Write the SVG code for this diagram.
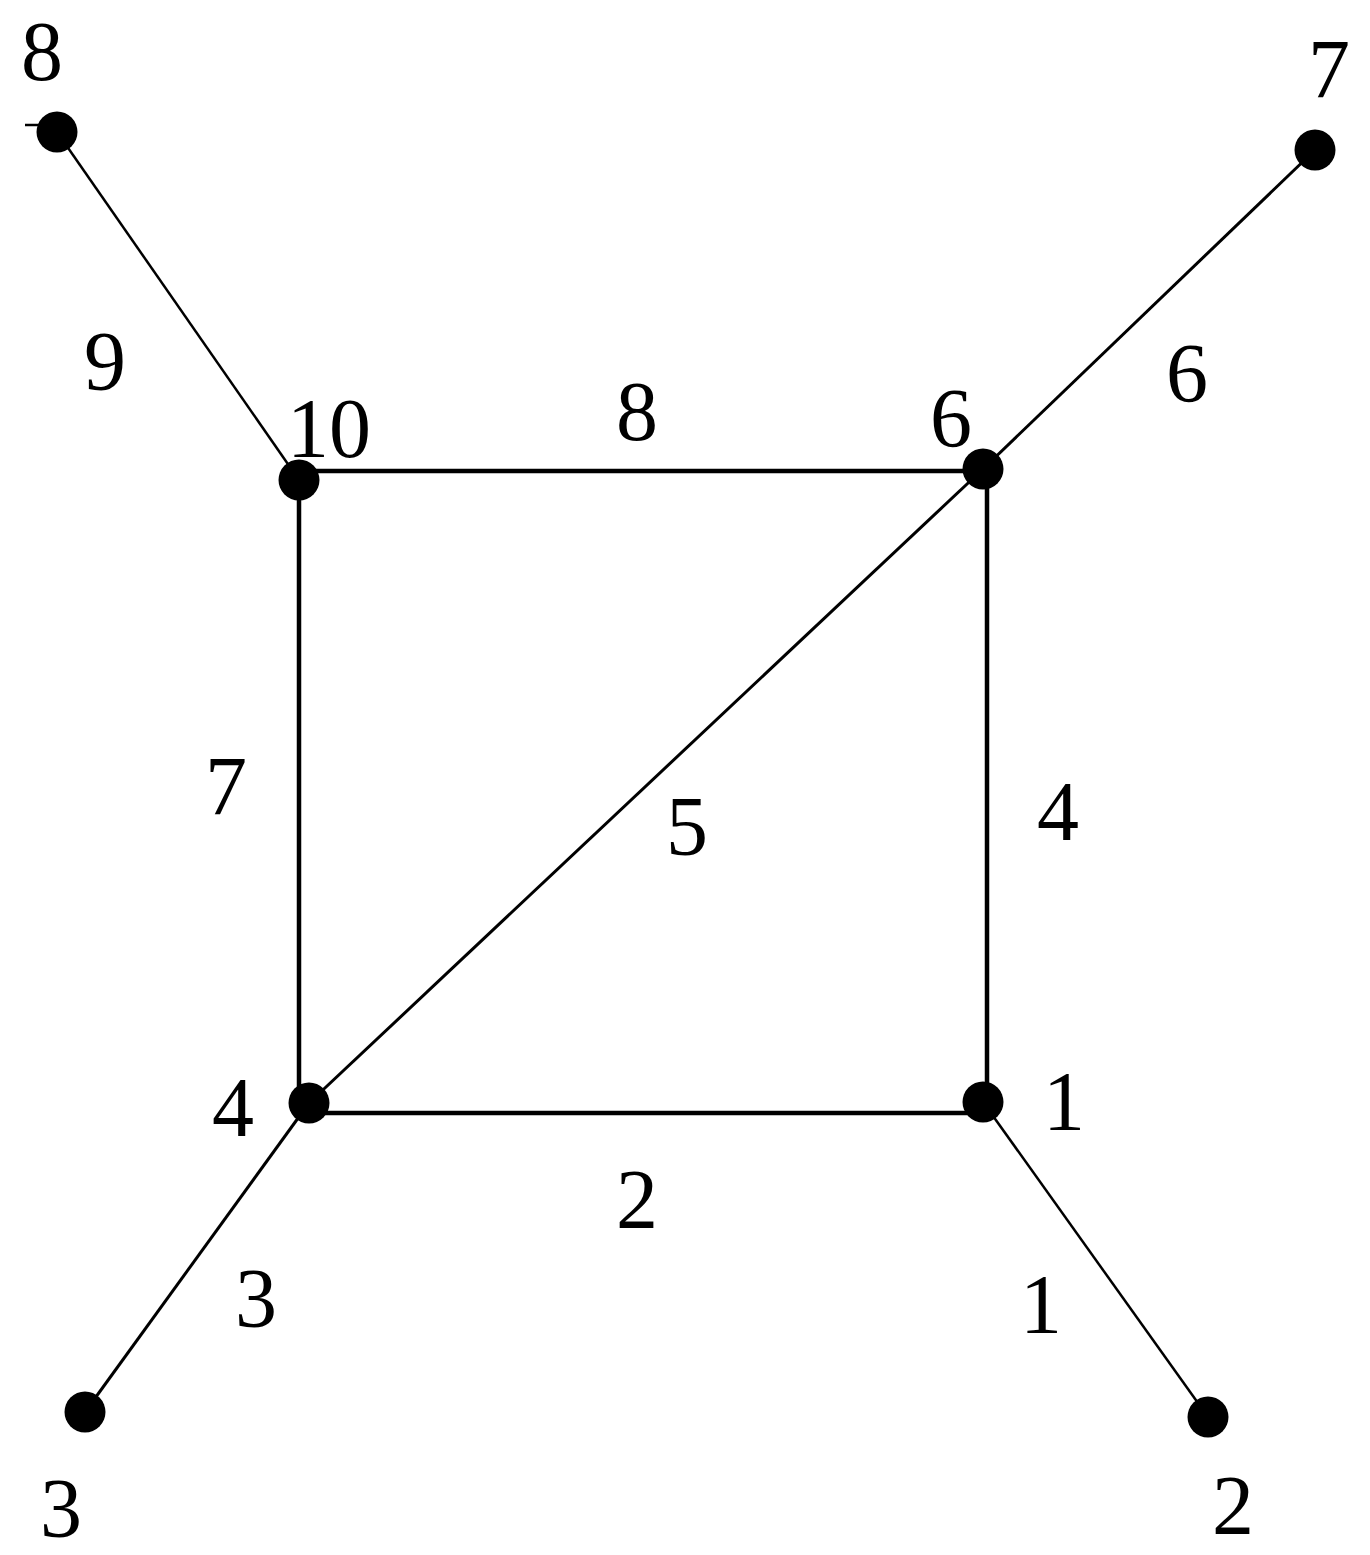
<svg xmlns="http://www.w3.org/2000/svg" width="1370" height="1555" viewBox="0 0 1370 1555">
<style>
.e{stroke:#000;fill:none;stroke-linecap:butt}
.sq{stroke-width:4.5}
.dg{stroke-width:3}
.th{stroke-width:2.5}
.n{fill:#000}
text{font-family:"Liberation Serif","DejaVu Serif",serif;font-size:84px;fill:#000;text-anchor:middle}
</style>
<rect width="1370" height="1555" fill="#fff"/>
<g id="connectors">
<line class="e th" x1="57" y1="132" x2="299" y2="480"/>
<line class="e th" x1="25" y1="125" x2="40" y2="125"/>
<line class="e dg" x1="983" y1="469" x2="1315" y2="150"/>
<line class="e sq" x1="299" y1="471" x2="983" y2="471"/>
<line class="e sq" x1="299" y1="480" x2="299" y2="1103"/>
<line class="e sq" x1="987" y1="469" x2="987" y2="1102"/>
<line class="e sq" x1="309" y1="1113" x2="983" y2="1113"/>
<line class="e dg" x1="309" y1="1103" x2="983" y2="469"/>
<line class="e dg" x1="309" y1="1103" x2="85" y2="1412"/>
<line class="e th" x1="983" y1="1102" x2="1208" y2="1417"/>
<text x="637" y="440">8</text>
<text x="105" y="390">9</text>
<text x="1187" y="402">6</text>
<text x="226" y="815">7</text>
<text x="687" y="855">5</text>
<text x="1058" y="840">4</text>
<text x="637" y="1228">2</text>
<text x="256" y="1327">3</text>
<text x="1041" y="1333">1</text>
</g>
<g id="n8"><circle class="n" cx="57" cy="132" r="20.5"/><text x="42" y="80">8</text></g>
<g id="n7"><circle class="n" cx="1315" cy="150" r="20.5"/><text x="1329" y="98">7</text></g>
<g id="n10"><circle class="n" cx="299" cy="480" r="20.5"/><text x="329" y="457">10</text></g>
<g id="n6"><circle class="n" cx="983" cy="469" r="20.5"/><text x="951" y="447">6</text></g>
<g id="n4"><circle class="n" cx="309" cy="1103" r="20.5"/><text x="233" y="1136">4</text></g>
<g id="n1"><circle class="n" cx="983" cy="1102" r="20.5"/><text x="1064" y="1130">1</text></g>
<g id="n3"><circle class="n" cx="85" cy="1412" r="20.5"/><text x="61" y="1537">3</text></g>
<g id="n2"><circle class="n" cx="1208" cy="1417" r="20.5"/><text x="1233" y="1534">2</text></g>
</svg>
